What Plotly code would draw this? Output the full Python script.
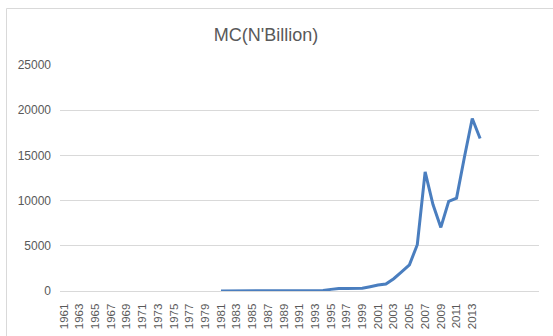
import plotly.graph_objects as go

# Market capitalisation (N'Billion) by year
years = list(range(1981, 2015))
mc_values = [5.0, 5.0, 5.7, 5.5, 6.6, 6.8, 8.2, 10.0, 12.8, 16.3,
             23.1, 31.2, 47.5, 66.3, 180.4, 285.8, 281.9, 262.6, 300.0, 472.3,
             662.5, 764.9, 1359.3, 2112.5, 2900.1, 5121.0, 13181.7, 9563.0, 7030.8, 9918.2,
             10275.3, 14800.9, 19077.4, 16875.1]

# Category axis covers 1961-2021; labels on every other year up to 2013
tick_years = list(range(1961, 2014, 2))
tick_labels = [str(y) for y in tick_years]

W, H = 553, 336
L, R, T, B = 60, 14, 65, 45
pw, ph = W - L - R, H - T - B

def px_x(p):
    return (p - L) / pw

def px_y(p):
    return (H - B - p) / ph

grey = "#595959"
grid = "#d9d9d9"

fig = go.Figure()
fig.add_trace(go.Scatter(
    x=years, y=mc_values, mode="lines",
    line=dict(color="#4a7ebf", width=3),
    hoverinfo="x+y", showlegend=False,
))

fig.update_layout(
    width=W, height=H,
    margin=dict(l=L, r=R, t=T, b=B),
    paper_bgcolor="white", plot_bgcolor="white",
    font=dict(family="Liberation Sans, Arial, sans-serif", color=grey),
    title=dict(text="MC(N'Billion)", font=dict(size=18, color=grey),
               x=266 / W, xref="container", xanchor="center",
               y=1 - 35 / H, yref="container", yanchor="middle"),
    xaxis=dict(range=[1960.5, 2021.5], tickmode="array",
               tickvals=tick_years, ticktext=tick_labels,
               tickangle=-90, tickfont=dict(size=11.5, color=grey),
               showgrid=False, zeroline=False,
               showline=True, linecolor=grid, linewidth=1,
               ticks="", ticklabelstandoff=7, automargin=False),
    yaxis=dict(range=[0, 25000], dtick=5000, tickformat="d",
               tickfont=dict(size=12, color=grey),
               showgrid=True, gridcolor=grid, gridwidth=1,
               zeroline=False, showline=False, ticks="",
               ticklabelstandoff=8, automargin=False),
    shapes=[dict(type="rect", xref="paper", yref="paper",
                 x0=px_x(6.5), x1=px_x(575), y0=px_y(360), y1=px_y(8.5),
                 line=dict(color=grid, width=1), fillcolor="rgba(0,0,0,0)",
                 layer="below")],
)

fig.write_html("out.html")
